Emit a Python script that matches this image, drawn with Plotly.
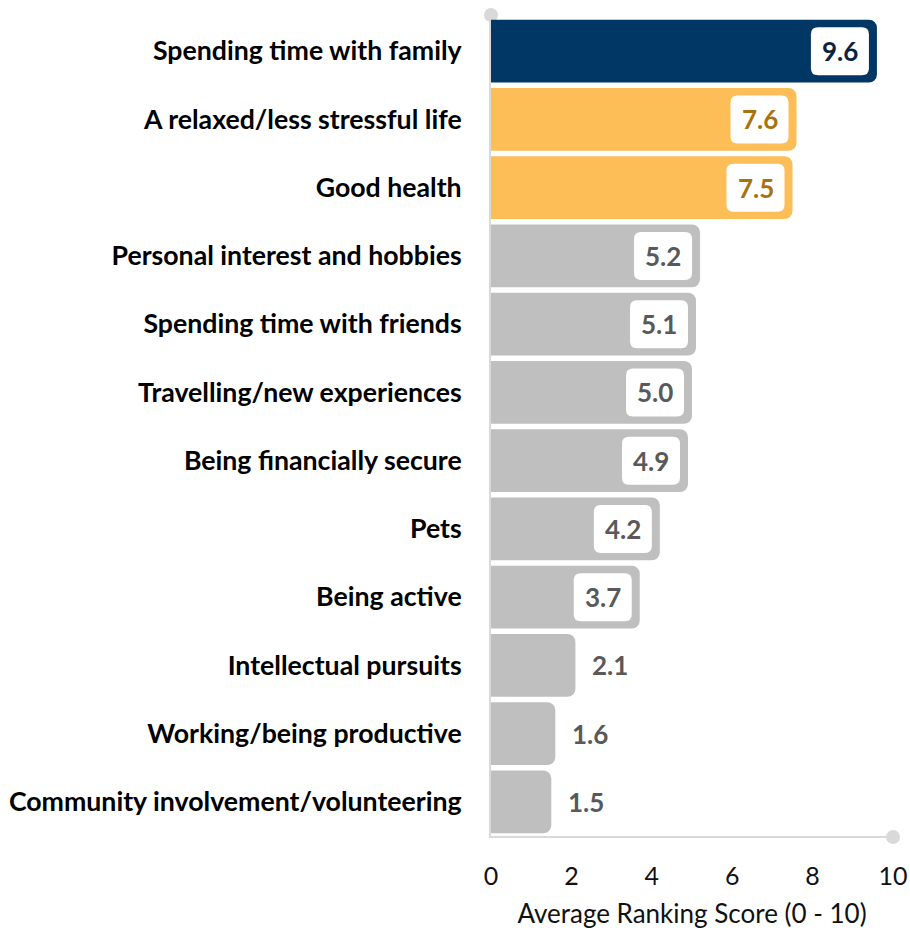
import plotly.graph_objects as go

# Survey results: average ranking score per life priority (0 - 10)
categories = [
    "Spending time with family",
    "A relaxed/less stressful life",
    "Good health",
    "Personal interest and hobbies",
    "Spending time with friends",
    "Travelling/new experiences",
    "Being financially secure",
    "Pets",
    "Being active",
    "Intellectual pursuits",
    "Working/being productive",
    "Community involvement/volunteering",
]
scores = [9.6, 7.6, 7.5, 5.2, 5.1, 5.0, 4.9, 4.2, 3.7, 2.1, 1.6, 1.5]
tier = ["top", "high", "high", "rest", "rest", "rest", "rest", "rest", "rest", "rest", "rest", "rest"]
x_ticks = [0, 2, 4, 6, 8, 10]

BAR_COLORS = {"top": "#003764", "high": "#FDBE57", "rest": "#BFBFBF"}
TEXT_COLORS = {"top": "#0B2340", "high": "#A8730E", "rest": "#595959"}
AXIS_GREY = "#D9D9D9"
LABEL_FONT = "Lato, 'Open Sans', sans-serif"

fig = go.Figure(
    go.Bar(
        x=scores,
        y=categories,
        orientation="h",
        width=0.92,
        marker=dict(color=[BAR_COLORS[t] for t in tier], line=dict(width=0)),
        hoverinfo="skip",
    )
)


def rounded_box(x0, x1, y0, y1, r):
    """SVG path of a rounded rectangle (pixel offsets)."""
    return (
        f"M {x0 + r},{y0} L {x1 - r},{y0} Q {x1},{y0} {x1},{y0 + r} "
        f"L {x1},{y1 - r} Q {x1},{y1} {x1 - r},{y1} "
        f"L {x0 + r},{y1} Q {x0},{y1} {x0},{y1 - r} "
        f"L {x0},{y0 + r} Q {x0},{y0} {x0 + r},{y0} Z"
    )


shapes = []
annotations = []
BOX_W, BOX_H, INSET = 58, 48, 8
for i, (cat, v, t) in enumerate(zip(categories, scores, tier)):
    inside = v >= 3
    if inside:
        path = rounded_box(-INSET - BOX_W, -INSET, -BOX_H / 2, BOX_H / 2, 7)
        shapes.append(
            dict(
                type="path",
                xref="x",
                yref="y",
                xsizemode="pixel",
                ysizemode="pixel",
                xanchor=v,
                yanchor=i,
                path=path,
                fillcolor="white",
                line=dict(width=0),
                layer="above",
            )
        )
        shift = -INSET - BOX_W / 2
    else:
        shift = INSET + BOX_W / 2 - 2
    annotations.append(
        dict(
            x=v,
            y=cat,
            xref="x",
            yref="y",
            text=f"<b>{v:.1f}</b>",
            showarrow=False,
            xshift=shift,
            font=dict(family=LABEL_FONT, size=26, color=TEXT_COLORS[t]),
        )
    )

# Round end caps on the two axis lines
shapes.append(
    dict(type="circle", xref="paper", yref="paper",
         xsizemode="pixel", ysizemode="pixel", xanchor=0, yanchor=1,
         x0=-7, x1=7, y0=-5, y1=9,
         fillcolor=AXIS_GREY, line=dict(width=0), layer="below")
)
shapes.append(
    dict(type="circle", xref="paper", yref="paper",
         xsizemode="pixel", ysizemode="pixel", xanchor=1, yanchor=0,
         x0=-7, x1=7, y0=-8, y1=6,
         fillcolor=AXIS_GREY, line=dict(width=0), layer="below")
)
shapes.append(
    dict(type="line", xref="paper", yref="paper",
         xsizemode="pixel", ysizemode="pixel", xanchor=0, yanchor=1,
         x0=0, x1=0, y0=0, y1=3,
         line=dict(color=AXIS_GREY, width=2), layer="below")
)

fig.update_layout(
    width=910,
    height=931,
    margin=dict(l=491, r=17, t=17, b=95, autoexpand=False),
    paper_bgcolor="white",
    plot_bgcolor="white",
    barcornerradius=8,
    showlegend=False,
    shapes=shapes,
    annotations=annotations,
    xaxis=dict(
        range=[0, 10],
        tickvals=x_ticks,
        ticktext=[str(v) for v in x_ticks],
        showgrid=False,
        zeroline=False,
        showline=True,
        linecolor=AXIS_GREY,
        linewidth=2,
        ticks="",
        automargin=False,
        ticklabelstandoff=17,
        tickfont=dict(family="Lato, sans-serif", size=25, color="#111111"),
        title=dict(
            text="Average Ranking Score (0 - 10)",
            standoff=16,
            font=dict(family="Lato, sans-serif", size=26, color="#111111"),
        ),
    ),
    yaxis=dict(
        autorange="reversed",
        showgrid=False,
        zeroline=False,
        showline=True,
        linecolor=AXIS_GREY,
        linewidth=2,
        ticks="",
        automargin=False,
        ticklabelstandoff=22,
        tickfont=dict(family=LABEL_FONT, size=26.7, color="#000000", weight="bold"),
    ),
)

fig.write_html("out.html")
